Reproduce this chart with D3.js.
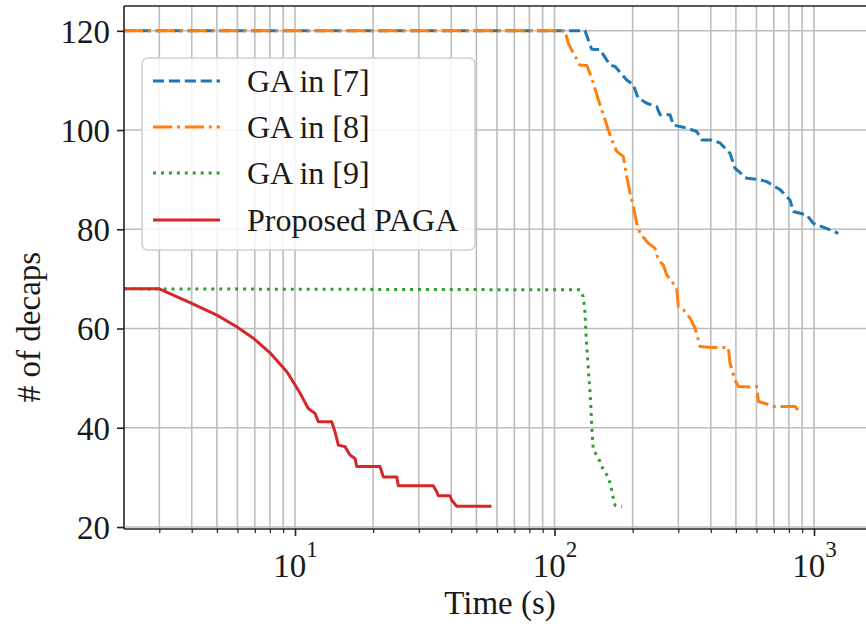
<!DOCTYPE html>
<html>
<head>
<meta charset="utf-8">
<script src="https://cdn.jsdelivr.net/npm/d3@7"></script>
<style>
  html, body { margin: 0; padding: 0; background: #fff; }
  svg { display: block; }
  text { font-family: "Liberation Serif", "Times New Roman", serif; fill: #1a1a1a; }
</style>
</head>
<body>
<svg id="chart" width="866" height="627"></svg>
<script>
// ---- data (time in seconds, number of decaps) ----
const seriesNames = ["GA in [7]", "GA in [8]", "GA in [9]", "Proposed PAGA"];

const gaRef7 = [[2.19,120],[131.1,120],[139.1,116.3],[149.7,116.2],[163.7,113.1],[171.1,112.8],[189.8,110.1],[201.2,109.1],[209.8,106.5],[226.6,105.4],[247.6,104.7],[255,103.1],[278.7,103.1],[287,101],[323.2,100.4],[353.2,99.7],[369.2,98],[403.5,98],[434.3,97.4],[474.6,95.3],[496.1,92.3],[550.4,90.3],[619.4,90],[657.3,89.6],[739.6,88],[808,85.9],[832.1,83.6],[937.4,82.9],[993.8,81.2],[1152.7,79.9],[1240.8,79.2]];

const gaRef8 = [[2.19,120],[109.8,120],[113,117.5],[118.2,115.5],[125.4,113.1],[133.1,113],[139.1,110.5],[147.5,106.1],[156.5,102.1],[161.2,100],[166.1,98],[173.6,95.7],[184.1,94.7],[189.8,90.6],[195.4,87.3],[201.2,84.6],[207.4,81.2],[213.6,79.2],[229.9,77.2],[243.9,76.2],[251.2,73.8],[262.6,72.8],[270.6,70.8],[282.9,69.5],[295.7,68.1],[300,64.4],[313.6,63.8],[332.8,62.1],[347.9,60.1],[363.7,56.4],[403.5,56.2],[467.4,56.2],[474.6,53],[496.1,49.6],[510.9,48.3],[566.9,48.2],[601.6,48.3],[610.2,45.3],[647.4,44.9],[697,44.3],[845.3,44.3],[883.6,43]];

const gaRef9 = [[2.19,68],[125.4,67.8],[129.1,66.4],[131.1,63.1],[132.3,58.4],[133.8,55],[135,51.7],[137.1,47],[138.3,43.6],[139.1,40.2],[140.4,37.2],[141.1,35.5],[145.4,34.5],[149.7,33.2],[154.2,31.5],[161.2,30.1],[166.1,27.5],[168.5,25.8],[171.1,24.4],[181.6,24.1]];

const paga = [[2.19,68],[3.0,68],[3.94,65.2],[5.0,62.7],[5.98,60.3],[6.89,58.1],[8.01,55.1],[9.3,51.3],[9.57,50.3],[10.45,47],[11.25,43.9],[11.94,42.9],[12.3,41.2],[13.85,41.2],[14.26,39.2],[14.69,36.5],[15.58,36.2],[16.29,34.5],[17.03,33.8],[17.29,32.2],[21.26,32.2],[21.89,30.1],[24.66,30.1],[25.01,28.3],[34.12,28.3],[35.16,27.1],[35.66,26.3],[39.56,26.3],[40.16,25.4],[41.99,24.2],[56.41,24.2]];

const yTicks = [20, 40, 60, 80, 100, 120];
const xMajorTicks = [10, 100, 1000];
const xMajorExponents = ["1", "2", "3"];
const xLimits = [2.193, 1733];
const yLimits = [19.6, 125.0];

// ---- layout ----
const svg = d3.select("#chart");
const pLeft = 124, pRight = 876, pTop = 6, pBottom = 529;

const x = d3.scaleLog().domain(xLimits).range([pLeft, pRight]);
const y = d3.scaleLinear().domain(yLimits).range([pBottom, pTop]);

const colors = ["#1f77b4", "#ff7f0e", "#2ca02c", "#d62728"];
const dashes = ["11.1,4.8", "19.2,4.8,3,4.8", "3,4.95", null];
const allSeries = [gaRef7, gaRef8, gaRef9, paga];

svg.append("defs").append("clipPath").attr("id", "plotclip")
  .append("rect").attr("x", pLeft).attr("y", pTop).attr("width", pRight - pLeft).attr("height", pBottom - pTop);

// minor ticks for log x
const xMinorTicks = [];
[1, 10, 100, 1000].forEach(dec => {
  for (let k = 2; k <= 9; k++) {
    const v = dec * k;
    if (v > xLimits[0] && v < xLimits[1]) xMinorTicks.push(v);
  }
});

// grid
const grid = svg.append("g").attr("stroke", "#bdbdbd").attr("stroke-width", 1.6);
xMajorTicks.concat(xMinorTicks).forEach(v => {
  grid.append("line").attr("x1", x(v)).attr("x2", x(v)).attr("y1", pTop).attr("y2", pBottom);
});
yTicks.forEach(v => {
  grid.append("line").attr("x1", pLeft).attr("x2", pRight).attr("y1", y(v)).attr("y2", y(v));
});

// lines
const line = d3.line().x(d => x(d[0])).y(d => y(d[1]));
const plot = svg.append("g").attr("clip-path", "url(#plotclip)");
allSeries.forEach((s, i) => {
  const p = plot.append("path").datum(s)
    .attr("d", line)
    .attr("fill", "none")
    .attr("stroke", colors[i])
    .attr("stroke-width", 3)
    .attr("stroke-linejoin", "round");
  if (dashes[i]) p.attr("stroke-dasharray", dashes[i]).attr("stroke-linecap", "butt");
  else p.attr("stroke-linecap", "square");
});

// spines
const spines = svg.append("g").attr("stroke", "#222").attr("stroke-width", 1.6).attr("fill", "none");
spines.append("line").attr("x1", pLeft).attr("x2", pLeft).attr("y1", pTop).attr("y2", pBottom);
spines.append("line").attr("x1", pLeft).attr("x2", pRight).attr("y1", pBottom).attr("y2", pBottom);
spines.append("line").attr("x1", pLeft).attr("x2", pRight).attr("y1", pTop).attr("y2", pTop);
spines.append("line").attr("x1", pRight).attr("x2", pRight).attr("y1", pTop).attr("y2", pBottom);

// y axis
const yAxis = d3.axisLeft(y).tickValues(yTicks).tickSize(7).tickPadding(7).tickFormat(d3.format("d"));
const gy = svg.append("g").attr("transform", `translate(${pLeft},0)`).call(yAxis);
gy.select(".domain").remove();
gy.selectAll(".tick line").attr("stroke", "#222").attr("stroke-width", 1.6);
gy.selectAll(".tick text").attr("font-size", 33).attr("font-family", "Liberation Serif").attr("fill", "#1a1a1a").attr("dy", "0.34em");

// x axis major
const xAxis = d3.axisBottom(x).tickValues(xMajorTicks).tickSize(7).tickFormat("");
const gx = svg.append("g").attr("transform", `translate(0,${pBottom})`).call(xAxis);
gx.select(".domain").remove();
gx.selectAll(".tick line").attr("stroke", "#222").attr("stroke-width", 1.6);
gx.selectAll(".tick").each(function(d, i) {
  const t = d3.select(this).append("text")
    .attr("y", 48).attr("text-anchor", "middle")
    .attr("font-size", 33).attr("font-family", "Liberation Serif").attr("fill", "#1a1a1a");
  t.append("tspan").text("10");
  t.append("tspan").attr("dy", -20).attr("font-size", 23).text(xMajorExponents[i]);
});
// x axis minor
const xAxisMinor = d3.axisBottom(x).tickValues(xMinorTicks).tickSize(4).tickFormat("");
const gxm = svg.append("g").attr("transform", `translate(0,${pBottom})`).call(xAxisMinor);
gxm.select(".domain").remove();
gxm.selectAll(".tick line").attr("stroke", "#222").attr("stroke-width", 1.2);

// axis labels
svg.append("text").attr("x", (pLeft + pRight) / 2).attr("y", 614).attr("text-anchor", "middle")
  .attr("font-size", 33).text("Time (s)");
svg.append("text").attr("transform", "translate(40,327) rotate(-90)").attr("text-anchor", "middle")
  .attr("font-size", 33).text("# of decaps");

// legend
const lg = svg.append("g");
lg.append("rect").attr("x", 142).attr("y", 58).attr("width", 333).attr("height", 192)
  .attr("rx", 6).attr("ry", 6)
  .attr("fill", "#fff").attr("fill-opacity", 0.85)
  .attr("stroke", "#d0d0d0").attr("stroke-width", 1.6);
const legY = [81, 127, 173, 220];
seriesNames.forEach((name, i) => {
  const l = lg.append("line").attr("x1", 153).attr("x2", 220).attr("y1", legY[i]).attr("y2", legY[i])
    .attr("stroke", colors[i]).attr("stroke-width", 3);
  if (dashes[i]) l.attr("stroke-dasharray", dashes[i]);
  lg.append("text").attr("x", 247).attr("y", legY[i]).attr("dy", "0.34em")
    .attr("font-size", 32).text(name);
});
</script>
</body>
</html>
